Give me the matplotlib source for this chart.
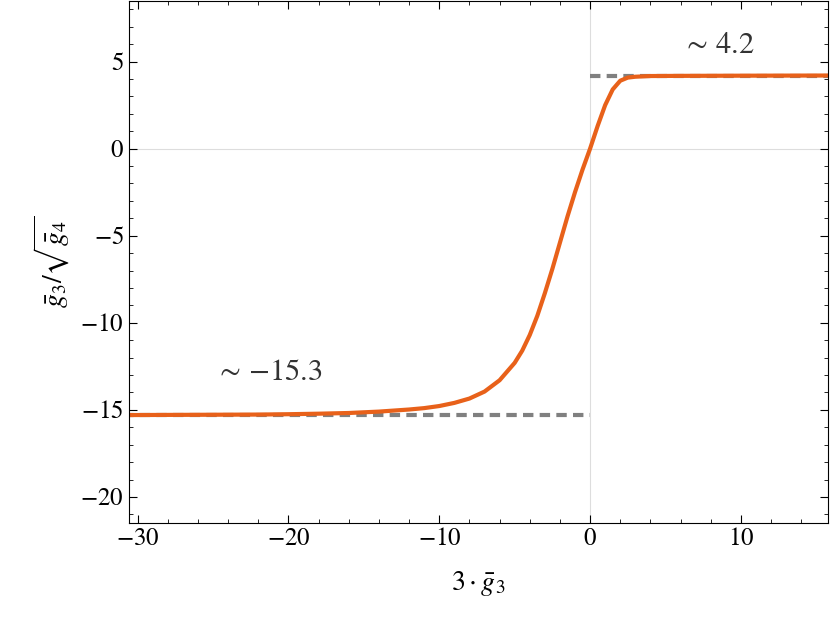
import matplotlib
matplotlib.use("Agg")
import matplotlib.pyplot as plt
from matplotlib.ticker import MultipleLocator

plt.rcParams['font.family'] = ['Liberation Serif', 'DejaVu Serif']
plt.rcParams['mathtext.fontset'] = 'stix'

x = [-31, -28, -25, -22, -20, -18, -16, -14, -12, -11, -10, -9, -8, -7, -6, -5, -4.5, -4, -3.5, -3, -2.5, -2,
     -1.5, -1, -0.5, 0, 0.5, 1, 1.5, 2, 2.5, 3, 4, 6, 10, 16]
y = [-15.3, -15.29, -15.28, -15.27, -15.25, -15.22, -15.18, -15.1, -14.98, -14.9, -14.78, -14.6, -14.35, -13.95,
     -13.3, -12.3, -11.6, -10.7, -9.6, -8.3, -6.9, -5.4, -3.9, -2.5, -1.2, 0.0, 1.3, 2.5, 3.4, 3.9, 4.08, 4.13,
     4.17, 4.18, 4.19, 4.2]
lim_lo, lim_hi = -15.3, 4.2

fig = plt.figure(figsize=(8.3, 6.34), dpi=100)
ax = fig.add_axes([0.155, 0.175, 0.843, 0.824])
ax.axhline(0, color='#dddddd', lw=0.8, zorder=0)
ax.axvline(0, color='#dddddd', lw=0.8, zorder=0)
ax.plot([-31, 0], [lim_lo, lim_lo], ls=(0, (2.5, 1.5)), color='gray', lw=3)
ax.plot([0, 16], [lim_hi, lim_hi], ls=(0, (2.5, 1.5)), color='gray', lw=3)
ax.plot(x, y, color='#e8611a', lw=3, solid_joinstyle='round')
ax.text(-21.3, -13.3, r'$\sim\,{-15.3}$', fontsize=22, ha='center', color='#333333')
ax.text(8.5, 5.5, r'$\sim\,4.2$', fontsize=22, ha='center', color='#333333')
ax.set_xlim(-30.6, 15.8)
ax.set_ylim(-21.5, 8.5)
ax.xaxis.set_major_locator(MultipleLocator(10))
ax.xaxis.set_minor_locator(MultipleLocator(2))
ax.yaxis.set_major_locator(MultipleLocator(5))
ax.yaxis.set_minor_locator(MultipleLocator(1))
ax.tick_params(which='both', direction='in', top=True, right=True, labelsize=18)
ax.tick_params(which='major', length=6)
ax.tick_params(which='minor', length=3)
ax.set_xticks([-30, -20, -10, 0, 10])
ax.set_xticklabels(['$-30$', '$-20$', '$-10$', '$0$', '$10$'])
ax.set_yticks([5, 0, -5, -10, -15, -20])
ax.set_yticklabels(['$5$', '$0$', '$-5$', '$-10$', '$-15$', '$-20$'])
ax.set_xlabel(r'$3\cdot\bar{g}_3$', fontsize=20, labelpad=14)
ax.set_ylabel(r'$\bar{g}_3/\sqrt{\bar{g}_4}$', fontsize=20, labelpad=6)
fig.savefig('out.png', dpi=100)
